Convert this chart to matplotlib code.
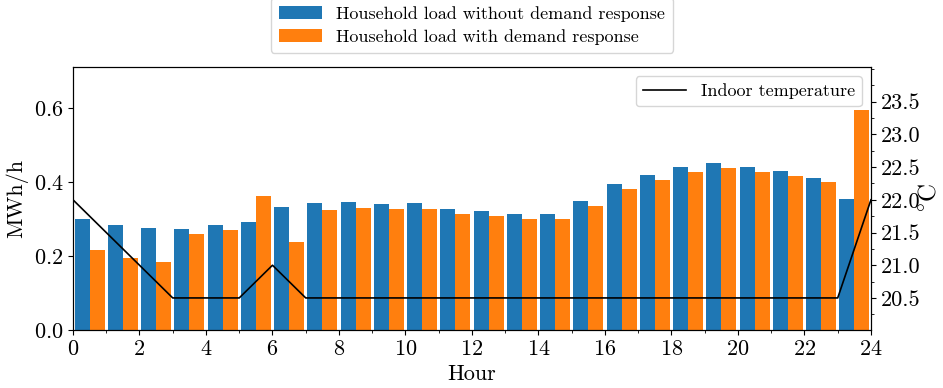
import matplotlib
matplotlib.use("Agg")
import matplotlib.pyplot as plt
from matplotlib.ticker import MultipleLocator, FixedLocator, FormatStrFormatter
import numpy as np

plt.rcParams["font.family"] = ["cmr10", "DejaVu Serif"]
plt.rcParams["mathtext.fontset"] = "cm"
plt.rcParams["axes.formatter.use_mathtext"] = True

hours = np.arange(24)
load_without_dr = [0.299, 0.284, 0.276, 0.273, 0.284, 0.292, 0.333, 0.343,
                   0.346, 0.341, 0.343, 0.327, 0.321, 0.314, 0.314, 0.349,
                   0.395, 0.419, 0.441, 0.452, 0.441, 0.430, 0.411, 0.354]
load_with_dr = [0.216, 0.195, 0.184, 0.259, 0.270, 0.362, 0.238, 0.324,
                0.330, 0.327, 0.327, 0.314, 0.308, 0.300, 0.300, 0.335,
                0.381, 0.405, 0.427, 0.438, 0.427, 0.416, 0.400, 0.595]
temp_hours = np.arange(25)
indoor_temp = [22.0, 21.5, 21.0, 20.5, 20.5, 20.5, 21.0, 20.5, 20.5, 20.5,
               20.5, 20.5, 20.5, 20.5, 20.5, 20.5, 20.5, 20.5, 20.5, 20.5,
               20.5, 20.5, 20.5, 20.5, 22.0]
temp_ticks = [20.5, 21.0, 21.5, 22.0, 22.5, 23.0, 23.5]

fig = plt.figure(figsize=(9.43, 3.88), dpi=100)
ax = fig.add_axes([0.0774, 0.1495, 0.8462, 0.6778])

w = 0.45
ax.bar(hours + 0.5, load_without_dr, width=-w, align="edge", color="#1f77b4",
       label="Household load without demand response")
ax.bar(hours + 0.5, load_with_dr, width=w, align="edge", color="#ff7f0e",
       label="Household load with demand response")
ax.set_xlim(0, 24)
ax.set_ylim(0, 0.711)
ax.xaxis.set_major_locator(MultipleLocator(2))
ax.xaxis.set_minor_locator(MultipleLocator(1))
ax.yaxis.set_major_locator(MultipleLocator(0.2))
ax.set_xlabel("Hour", fontsize=16, labelpad=4)
ax.set_ylabel("MWh/h", fontsize=16, labelpad=4)
ax.tick_params(axis="both", which="major", labelsize=16)
ax.legend(loc="lower center", bbox_to_anchor=(0.5, 1.02), fontsize=13,
          ncol=1, handlelength=2.4, borderpad=0.45, labelspacing=0.4)

ax2 = ax.twinx()
ax2.plot(temp_hours, indoor_temp, color="black", lw=1.2,
         label="Indoor temperature")
ax2.set_ylim(20.01, 24.03)
ax2.yaxis.set_major_locator(FixedLocator(temp_ticks))
ax2.yaxis.set_minor_locator(MultipleLocator(0.25))
ax2.yaxis.set_major_formatter(FormatStrFormatter("%.1f"))
ax2.tick_params(axis="y", which="major", labelsize=16)
ax2.legend(loc="upper right", fontsize=13, handlelength=2.4)

# unit label for the temperature axis, just right of the tick labels
fig.text(0.986, 0.49, r"$^{\circ}\mathrm{C}$", rotation=90, fontsize=18,
         ha="center", va="center")

fig.savefig("out.png", dpi=100)
